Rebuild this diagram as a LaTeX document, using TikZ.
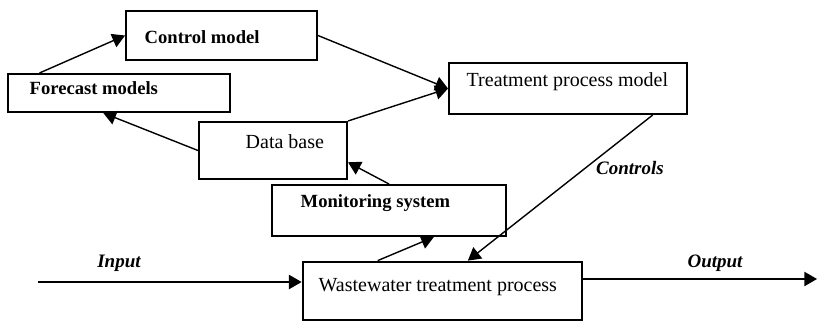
\documentclass[tikz,border=0pt]{standalone}
\usepackage{fontspec}
\setmainfont{Liberation Serif}
\usepackage{tikz}
\usetikzlibrary{arrows,calc}

\begin{document}
\begin{tikzpicture}[->, >=triangle 60,
         x=0.5pt, y=-0.5pt, line width=0.7pt]
  \tikzstyle{box}=[draw=black, shape=rectangle, line width=1pt, inner sep=0pt]
  \tikzstyle{txt}=[draw=none, anchor=west, inner sep=0pt, font=\fontsize{10}{12}\selectfont]
  \tikzstyle{btxt}=[txt, font=\fontsize{9.3}{11}\selectfont\bfseries]
  \tikzstyle{flow}=[draw=none, inner sep=0pt, font=\fontsize{9.5}{11}\selectfont\bfseries\itshape]
\useasboundingbox (0,0) rectangle (819,321);
% boxes
\node[box, minimum width=95.5pt, minimum height=24.5pt] (ctrl) at (221.5,35.5) {};
\node[box, minimum width=111pt, minimum height=19pt] (fore) at (119,93) {};
\node[box, minimum width=74pt, minimum height=28.5pt] (data) at (273,150.5) {};
\node[box, minimum width=119pt, minimum height=25.5pt] (treat) at (568,88.5) {};
\node[box, minimum width=117pt, minimum height=25.5pt] (mon) at (389,210.5) {};
\node[box, line width=1.4pt, minimum width=139.5pt, minimum height=29pt] (ww) at (442.5,291) {};
% texts
\node[btxt] (ctrltxt) at (144,37) {Control model};
\node[btxt] (foretxt) at (29,88) {Forecast models};
\node[txt] (datatxt) at (245,142) {Data base};
\node[txt] (treattxt) at (466,82) {Treatment process model};
\node[btxt] (montxt) at (300,203) {Monitoring system};
\node[txt] (wwtxt) at (318,287) {Wastewater treatment process};
\node[flow] (inlbl) at (119,263) {Input};
\node[flow] (outlbl) at (715,263) {Output};
\node[flow] (ctllbl) at (630,168) {Controls};
% connectors
\coordinate (inp) at (38,282);
\coordinate (outp) at (817,279);
\path
($(fore.north west)!0.145!(fore.north east)$) edge (ctrl.west)
(ctrl.east) edge (treat.west)
(data.north east) edge (treat.west)
(data.west) edge ($(fore.south west)!0.43!(fore.south east)$)
(mon.north) edge ($(data.north east)!0.7!(data.south east)$)
($(ww.north west)!0.27!(ww.north east)$) edge ($(mon.south west)!0.69!(mon.south east)$)
($(treat.south west)!0.853!(treat.south east)$) edge ($(ww.north west)!0.59!(ww.north east)$);
\draw (inp) -- (inp -| ww.west);
\draw (ww.east |- outp) -- (outp);
\end{tikzpicture}
\end{document}
